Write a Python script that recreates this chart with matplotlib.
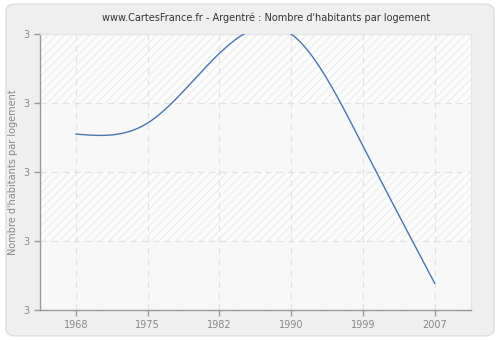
import matplotlib
matplotlib.use("Agg")
import matplotlib.pyplot as plt
from matplotlib.patches import FancyBboxPatch
from matplotlib.ticker import FormatStrFormatter
import numpy as np

# census years and average household size
years = ["1968", "1975", "1982", "1990", "1999", "2007"]
habitants = [2.855, 2.871, 2.972, 3.0, 2.838, 2.639]


def natural_spline(x, y, n=400):
    # natural cubic spline, used only to draw the smooth line between points
    x = np.asarray(x, float)
    y = np.asarray(y, float)
    k = len(x)
    h = np.diff(x)
    a = np.zeros((k, k))
    b = np.zeros(k)
    a[0, 0] = a[-1, -1] = 1
    for i in range(1, k - 1):
        a[i, i - 1] = h[i - 1]
        a[i, i] = 2 * (h[i - 1] + h[i])
        a[i, i + 1] = h[i]
        b[i] = 3 * ((y[i + 1] - y[i]) / h[i] - (y[i] - y[i - 1]) / h[i - 1])
    c = np.linalg.solve(a, b)
    xs = np.linspace(x[0], x[-1], n)
    ys = np.empty_like(xs)
    for j, t in enumerate(xs):
        i = min(np.searchsorted(x, t, side="right") - 1, k - 2)
        d = t - x[i]
        bb = (y[i + 1] - y[i]) / h[i] - h[i] * (c[i + 1] + 2 * c[i]) / 3
        dd = (c[i + 1] - c[i]) / (3 * h[i])
        ys[j] = y[i] + bb * d + c[i] * d ** 2 + dd * d ** 3
    return xs, ys


fig = plt.figure(figsize=(5, 3.4), dpi=100)
fig.patch.set_facecolor("white")
box = FancyBboxPatch((0.012, 0.012), 0.976, 0.976, boxstyle="round,pad=0,rounding_size=0.02",
                     transform=fig.transFigure, facecolor="#efefef", edgecolor="#dddddd",
                     linewidth=1, zorder=-10)
fig.patches.append(box)

ax = fig.add_axes([0.08, 0.088, 0.861, 0.812])
ax.set_facecolor("#f8f8f8")

ymin, ymax = 2.6, 3.0
ticks = np.linspace(ymin, ymax, 5)
plt.rcParams["hatch.linewidth"] = 0.7
for i in range(4):
    lo, hi = ticks[i], ticks[i + 1]
    if i % 2 == 1:
        ax.axhspan(lo, hi, facecolor="#fcfcfc", edgecolor="#ebebeb", hatch="////",
                   linewidth=0, zorder=0)
    else:
        ax.axhspan(lo, hi, facecolor="#f8f8f8", linewidth=0, zorder=0)

idx = np.arange(len(years))
xs, ys = natural_spline(idx, habitants)
ax.plot(xs, ys, color="#4a74ad", linewidth=1, zorder=3)

ax.set_xlim(-0.5, len(years) - 0.5)
ax.set_ylim(ymin, ymax)
ax.set_xticks(idx)
ax.set_xticklabels(years)
ax.set_yticks(ticks)
ax.yaxis.set_major_formatter(FormatStrFormatter("%.0f"))

ax.grid(True, color="#e2e2e2", linestyle=(0, (5, 4)), linewidth=0.9, zorder=1)
ax.set_axisbelow(True)

for s in ["top", "right"]:
    ax.spines[s].set_color("#e4e4e4")
    ax.spines[s].set_linewidth(0.8)
for s in ["left", "bottom"]:
    ax.spines[s].set_color("#999999")
    ax.spines[s].set_linewidth(1)

ax.tick_params(colors="#999999", labelcolor="#888888", labelsize=7, length=4, width=1)

ax.set_ylabel("Nombre d'habitants par logement", color="#888888", fontsize=7, labelpad=4)
fig.text(0.532, 0.948, "www.CartesFrance.fr - Argentré : Nombre d'habitants par logement",
         fontsize=7, color="#333333", ha="center", va="center")

fig.savefig("out.png", dpi=100, facecolor=fig.get_facecolor())
